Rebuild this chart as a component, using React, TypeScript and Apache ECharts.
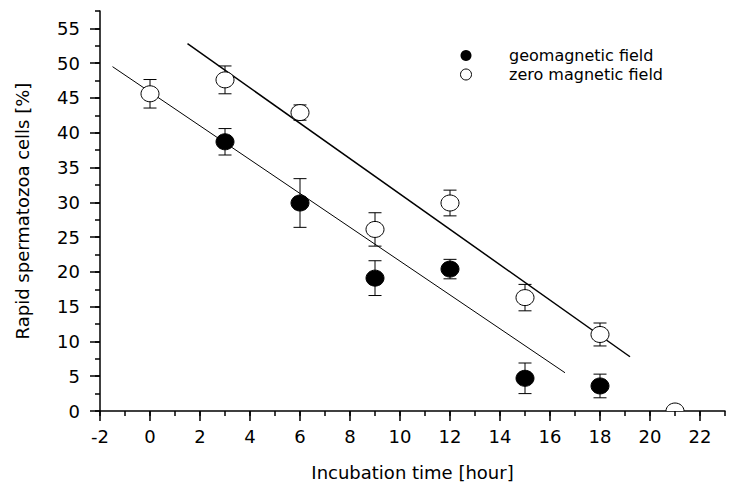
import React, { useEffect, useRef } from 'react';
import * as echarts from 'echarts';

// ---- data ----
const geoHours = [3, 6, 9, 12, 15, 18];
const geoValues = [38.7, 29.9, 19.1, 20.4, 4.7, 3.6];
const geoErrors = [1.9, 3.5, 2.5, 1.4, 2.2, 1.7];

const zeroHours = [0, 3, 6, 9, 12, 15, 18, 21];
const zeroValues = [45.6, 47.6, 42.9, 26.1, 29.9, 16.3, 11.0, 0];
const zeroErrors = [2.05, 2.0, 1.1, 2.4, 1.85, 1.9, 1.65, 0];

const geoFitX = [-1.5, 16.6];
const geoFitY = [49.5, 5.5];
const zeroFitX = [1.5, 19.2];
const zeroFitY = [52.8, 7.8];

const xTickValues = [-2, 0, 2, 4, 6, 8, 10, 12, 14, 16, 18, 20, 22];
const yTickValues = [0, 5, 10, 15, 20, 25, 30, 35, 40, 45, 50, 55];

const seriesNames = ['geomagnetic field', 'zero magnetic field'];
const xName = 'Incubation time [hour]';
const yName = 'Rapid spermatozoa cells [%]';

const FONT = 'DejaVu Sans';

function makeRender(fill: string) {
  return (params: any, api: any) => {
    const x = api.value(0);
    const y = api.value(1);
    const e = api.value(2);
    const c = api.coord([x, y]);
    const children: any[] = [];
    if (e > 0) {
      const top = api.coord([x, y + e]);
      const bot = api.coord([x, y - e]);
      const lw = { stroke: '#000', lineWidth: 1 };
      children.push({ type: 'line', shape: { x1: c[0], y1: top[1], x2: c[0], y2: bot[1] }, style: lw });
      children.push({ type: 'line', shape: { x1: c[0] - 6.5, y1: top[1], x2: c[0] + 6.5, y2: top[1] }, style: lw });
      children.push({ type: 'line', shape: { x1: c[0] - 6.5, y1: bot[1], x2: c[0] + 6.5, y2: bot[1] }, style: lw });
    }
    children.push({
      type: 'ellipse',
      shape: { cx: c[0], cy: c[1], rx: 9, ry: 8 },
      style: { fill, stroke: '#000', lineWidth: 1 },
    });
    return { type: 'group', children };
  };
}

export default function App() {
  const ref = useRef<HTMLDivElement>(null);

  useEffect(() => {
    if (!ref.current) return;
    const chart = echarts.init(ref.current, undefined, { renderer: 'svg' });
    const axisLineStyle = { color: '#000', width: 1.5 };
    const labelStyle = { fontFamily: FONT, fontSize: 18, color: '#000' };

    const option: any = {
      animation: false,
      grid: { left: 100, right: 5, top: 11, bottom: 76, containLabel: false },
      legend: {
        data: [
          { name: seriesNames[0], icon: 'circle', itemStyle: { color: '#000', borderColor: '#000', borderWidth: 0 } },
          { name: seriesNames[1], icon: 'circle', itemStyle: { color: '#fff', borderColor: '#000', borderWidth: 1 } },
        ],
        orient: 'vertical',
        left: 460,
        top: 46,
        padding: 0,
        itemWidth: 14,
        itemHeight: 11,
        itemGap: 0,
        symbolKeepAspect: false,
        selectedMode: false,
        textStyle: { fontFamily: FONT, fontSize: 16, color: '#000', lineHeight: 19, padding: [0, 0, 0, 31] },
      },
      xAxis: [
        {
          type: 'value', min: -2, max: 23, interval: 1,
          axisLine: { show: true, onZero: false, lineStyle: axisLineStyle },
          axisTick: { show: true, length: 5, lineStyle: axisLineStyle },
          axisLabel: { show: false },
          splitLine: { show: false },
        },
        {
          type: 'value', min: -2, max: 23, interval: 2, position: 'bottom',
          axisLine: { show: false, onZero: false },
          axisTick: { show: true, length: 10, customValues: xTickValues, lineStyle: axisLineStyle },
          axisLabel: { customValues: xTickValues, margin: 16, ...labelStyle },
          splitLine: { show: false },
          name: xName, nameLocation: 'middle', nameGap: 52,
          nameTextStyle: { fontFamily: FONT, fontSize: 18, color: '#000' },
        },
      ],
      yAxis: [
        {
          type: 'value', min: 0, max: 57.5, interval: 2.5,
          axisLine: { show: true, onZero: false, lineStyle: axisLineStyle },
          axisTick: { show: true, length: 5, lineStyle: axisLineStyle },
          axisLabel: { show: false },
          splitLine: { show: false },
        },
        {
          type: 'value', min: 0, max: 57.5, interval: 5, position: 'left',
          axisLine: { show: false, onZero: false },
          axisTick: { show: true, length: 10, customValues: yTickValues, lineStyle: axisLineStyle },
          axisLabel: { customValues: yTickValues, margin: 20, ...labelStyle },
          splitLine: { show: false },
          name: yName, nameLocation: 'middle', nameGap: 69,
          nameTextStyle: { fontFamily: FONT, fontSize: 18, color: '#000' },
        },
      ],
      series: [
        {
          type: 'line', name: 'fit geomagnetic',
          data: geoFitX.map((x, i) => [x, geoFitY[i]]),
          symbol: 'none', lineStyle: { color: '#000', width: 1 }, z: 2,
        },
        {
          type: 'line', name: 'fit zero',
          data: zeroFitX.map((x, i) => [x, zeroFitY[i]]),
          symbol: 'none', lineStyle: { color: '#000', width: 1.5 }, z: 2,
        },
        {
          type: 'custom', name: seriesNames[0],
          data: geoHours.map((x, i) => [x, geoValues[i], geoErrors[i]]),
          encode: { x: 0, y: 1 },
          renderItem: makeRender('#000'),
          itemStyle: { color: '#000' },
          clip: true, z: 3,
        },
        {
          type: 'custom', name: seriesNames[1],
          data: zeroHours.map((x, i) => [x, zeroValues[i], zeroErrors[i]]),
          encode: { x: 0, y: 1 },
          renderItem: makeRender('#fff'),
          itemStyle: { color: '#fff', borderColor: '#000', borderWidth: 1 },
          clip: true, z: 4,
        },
      ],
    };
    chart.setOption(option);
    return () => chart.dispose();
  }, []);

  return (
    <div
      ref={ref}
      style={{ position: 'absolute', left: 0, top: 0, width: 730, height: 487, background: '#fff' }}
    />
  );
}
